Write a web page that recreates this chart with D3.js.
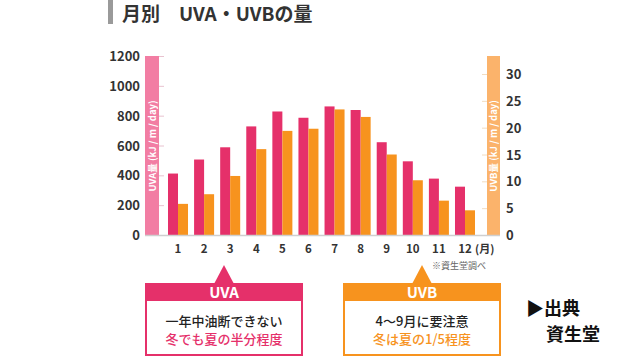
<!DOCTYPE html>
<html><head><meta charset="utf-8">
<script src="https://cdn.jsdelivr.net/npm/d3@7"></script>
<style>
html,body{margin:0;padding:0;background:#fff;}
text{font-family:"Noto Sans CJK JP","Noto Sans",sans-serif;}
</style></head>
<body>
<svg id="c" width="640" height="360"></svg>
<script>
const months = ["1","2","3","4","5","6","7","8","9","10","11","12"];
const uva = [412, 506, 588, 728, 828, 786, 862, 838, 622, 494, 378, 324];
const uvb = [5.8, 7.6, 11.0, 16.0, 19.4, 19.8, 23.4, 22.0, 15.0, 10.2, 6.4, 4.6];
const uvaTicks = [0, 200, 400, 600, 800, 1000, 1200];
const uvbTicks = [0, 5, 10, 15, 20, 25, 30];

const PINK = "#e5306a", ORANGE = "#f7931e";
const PINK_L = "#f27da3", ORANGE_L = "#fbb36b";

const svg = d3.select("#c");

// title
svg.append("rect").attr("x", 108).attr("y", 0).attr("width", 5).attr("height", 24).attr("fill", "#9a9a9a");
svg.append("text").attr("x", 122).attr("y", 21).attr("font-size", 19).attr("font-weight", 700)
  .attr("fill", "#333").attr("xml:space", "preserve").text("月別　UVA・UVBの量");

const x = d3.scaleBand().domain(months).range([168, 475]).paddingInner(0.233).paddingOuter(0);
const yL = d3.scaleLinear().domain([0, 1200]).range([235, 56]);
const yR = d3.scaleLinear().domain([0, 30]).range([235, 74]);

// side bands
svg.append("rect").attr("x", 145).attr("y", 56).attr("width", 14).attr("height", 179).attr("fill", PINK_L);
svg.append("rect").attr("x", 487).attr("y", 56).attr("width", 13).attr("height", 179).attr("fill", ORANGE_L);
svg.append("text").attr("transform", "translate(155.5,146) rotate(-90)").attr("text-anchor", "middle")
  .attr("font-size", 9.5).attr("font-weight", 700).attr("fill", "#fff").text("UVA量 (kJ / m / day)");
svg.append("text").attr("transform", "translate(497,146) rotate(-90)").attr("text-anchor", "middle")
  .attr("font-size", 9.5).attr("font-weight", 700).attr("fill", "#fff").text("UVB量 (kJ / m / day)");

// left axis
const gl = svg.append("g").attr("transform", "translate(159,0)")
  .call(d3.axisRight(yL).tickValues(uvaTicks).tickSize(5).tickFormat(""));
gl.select(".domain").remove();
gl.selectAll("line").attr("stroke", "#e8c2cf");
svg.append("g").selectAll("text").data(uvaTicks).join("text")
  .attr("x", 140).attr("y", d => yL(d) + 5).attr("text-anchor", "end")
  .attr("font-size", 13).attr("font-weight", 700).attr("fill", "#333").text(d => d);

// right axis
const gr = svg.append("g").attr("transform", "translate(487,0)")
  .call(d3.axisLeft(yR).tickValues(uvbTicks).tickSize(5).tickFormat(""));
gr.select(".domain").remove();
gr.selectAll("line").attr("stroke", "#f2dcc0");
svg.append("g").selectAll("text").data(uvbTicks).join("text")
  .attr("x", 506).attr("y", d => yR(d) + 5).attr("text-anchor", "start")
  .attr("font-size", 13).attr("font-weight", 700).attr("fill", "#333").text(d => d);

// bars
const bw = x.bandwidth() / 2;
svg.append("g").selectAll("rect").data(months).join("rect")
  .attr("x", (d) => x(d)).attr("y", (d, i) => yL(uva[i])).attr("width", bw)
  .attr("height", (d, i) => yL(0) - yL(uva[i])).attr("fill", PINK);
svg.append("g").selectAll("rect").data(months).join("rect")
  .attr("x", (d) => x(d) + bw).attr("y", (d, i) => yR(uvb[i])).attr("width", bw)
  .attr("height", (d, i) => yR(0) - yR(uvb[i])).attr("fill", ORANGE);

// baseline
svg.append("line").attr("x1", 145).attr("x2", 500).attr("y1", 235.5).attr("y2", 235.5)
  .attr("stroke", "#cfcfcf").attr("stroke-width", 1.5);

// month labels
svg.append("g").selectAll("text").data(months).join("text")
  .attr("x", d => x(d) + bw).attr("y", 253).attr("text-anchor", "middle")
  .attr("font-size", 11.5).attr("font-weight", 700).attr("fill", "#333").text(d => d);
svg.append("text").attr("x", x("12") + bw + 10).attr("y", 253).attr("font-size", 11)
  .attr("font-weight", 700).attr("fill", "#333").text("(月)");
svg.append("text").attr("x", 432).attr("y", 269).attr("font-size", 9)
  .attr("fill", "#666").text("※資生堂調べ");

// callout boxes
const boxes = [
  {x0: 145, x1: 303, apex: 224, color: PINK, head: "UVA", l1: "一年中油断できない", l2: "冬でも夏の半分程度"},
  {x0: 343, x1: 501, apex: 422, color: ORANGE, head: "UVB", l1: "4〜9月に要注意", l2: "冬は夏の1/5程度"}
];
boxes.forEach(b => {
  const g = svg.append("g");
  g.append("path").attr("d", `M${b.apex - 10},284 L${b.apex},265 L${b.apex + 10},284 Z`).attr("fill", b.color);
  g.append("rect").attr("x", b.x0 + 1).attr("y", 284).attr("width", b.x1 - b.x0 - 2).attr("height", 71)
    .attr("fill", "#fff").attr("stroke", b.color).attr("stroke-width", 2);
  g.append("rect").attr("x", b.x0).attr("y", 283).attr("width", b.x1 - b.x0).attr("height", 18).attr("fill", b.color);
  const cx = (b.x0 + b.x1) / 2;
  g.append("text").attr("x", cx).attr("y", 298).attr("text-anchor", "middle").attr("font-size", 15)
    .attr("font-weight", 700).attr("fill", "#fff").text(b.head);
  g.append("text").attr("x", cx).attr("y", 326).attr("text-anchor", "middle").attr("font-size", 13)
    .attr("font-weight", 500).attr("fill", "#222").text(b.l1);
  g.append("text").attr("x", cx).attr("y", 344).attr("text-anchor", "middle").attr("font-size", 13)
    .attr("font-weight", 500).attr("fill", b.color).text(b.l2);
});

// source
svg.append("text").attr("x", 526).attr("y", 315).attr("font-size", 18).attr("font-weight", 700)
  .attr("fill", "#111").text("▶出典");
svg.append("text").attr("x", 546).attr("y", 341).attr("font-size", 18).attr("font-weight", 700)
  .attr("fill", "#111").text("資生堂");
</script>
</body></html>
